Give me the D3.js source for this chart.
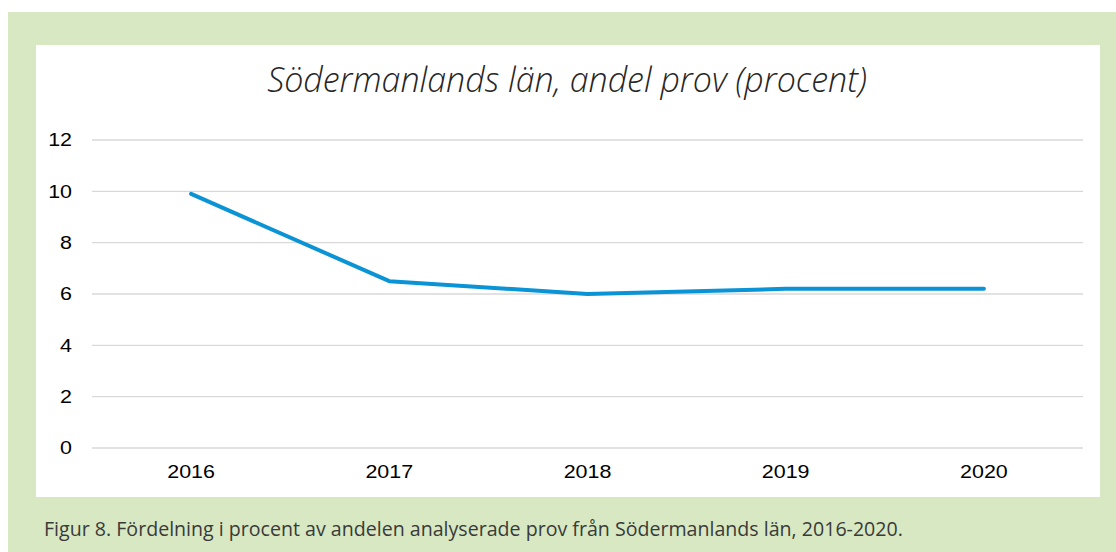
<!DOCTYPE html>
<html>
<head>
<meta charset="utf-8">
<script src="https://cdn.jsdelivr.net/npm/d3@7"></script>
<style>
  body { margin: 0; background: #fff; }
</style>
</head>
<body>
<svg id="chart"></svg>
<script>
// Data
const years = ["2016", "2017", "2018", "2019", "2020"];
const andel = [9.9, 6.5, 6.0, 6.2, 6.2];
const yTicks = [0, 2, 4, 6, 8, 10, 12];

const width = 1116;
const height = 552;
const plot = { left: 92, right: 1083, top: 140, bottom: 448 };
const stretch = 1.16; // tick labels are a bit wider than plain Arial

const svg = d3.select("#chart")
    .attr("width", width)
    .attr("height", height);

// green frame and white chart area
svg.append("rect")
    .attr("x", 8).attr("y", 12)
    .attr("width", width - 8).attr("height", height - 12)
    .attr("fill", "#d7e8c2");

svg.append("rect")
    .attr("x", 36).attr("y", 45)
    .attr("width", 1064).attr("height", 452)
    .attr("fill", "#ffffff");

const x = d3.scaleBand()
    .domain(years)
    .range([plot.left, plot.right]);

const y = d3.scaleLinear()
    .domain([0, 12])
    .range([plot.bottom, plot.top]);

// gridlines
svg.append("g")
    .selectAll("line")
    .data(yTicks)
    .enter().append("line")
    .attr("x1", plot.left)
    .attr("x2", plot.right)
    .attr("y1", d => y(d))
    .attr("y2", d => y(d))
    .attr("stroke", "#d9d9d9")
    .attr("stroke-width", 1.3);

// y axis labels
const yAxis = svg.append("g")
    .attr("transform", `translate(${plot.left},0)`)
    .call(d3.axisLeft(y).tickValues(yTicks).tickSize(0).tickPadding(20));
yAxis.select(".domain").remove();
yAxis.selectAll("text")
    .attr("font-family", "Liberation Sans, Arial, sans-serif")
    .attr("font-size", 18.5)
    .attr("fill", "#000")
    .attr("x", -20 / stretch)
    .attr("transform", `scale(${stretch},1)`);

// x axis labels
const xAxis = svg.append("g")
    .attr("transform", `translate(0,${plot.bottom})`)
    .call(d3.axisBottom(x).tickSize(0).tickPadding(17));
xAxis.select(".domain").remove();
xAxis.selectAll("text")
    .attr("font-family", "Liberation Sans, Arial, sans-serif")
    .attr("font-size", 18.5)
    .attr("fill", "#000")
    .attr("transform", `scale(${stretch},1)`);

// line
const line = d3.line()
    .x((d, i) => x(years[i]) + x.bandwidth() / 2)
    .y(d => y(d));

svg.append("path")
    .datum(andel)
    .attr("d", line)
    .attr("fill", "none")
    .attr("stroke", "#0a93d5")
    .attr("stroke-width", 4)
    .attr("stroke-linecap", "round")
    .attr("stroke-linejoin", "round");

// title
svg.append("text")
    .attr("x", 567)
    .attr("y", 92)
    .attr("text-anchor", "middle")
    .attr("font-family", "Open Sans, sans-serif")
    .attr("font-style", "italic")
    .attr("font-weight", 300)
    .attr("font-size", 34)
    .attr("fill", "#262626")
    .text("Södermanlands län, andel prov (procent)");

// caption
svg.append("text")
    .attr("x", 44)
    .attr("y", 536)
    .attr("font-family", "Open Sans, sans-serif")
    .attr("font-size", 19.6)
    .attr("fill", "#3a3a3a")
    .text("Figur 8. Fördelning i procent av andelen analyserade prov från Södermanlands län, 2016-2020.");
</script>
</body>
</html>
